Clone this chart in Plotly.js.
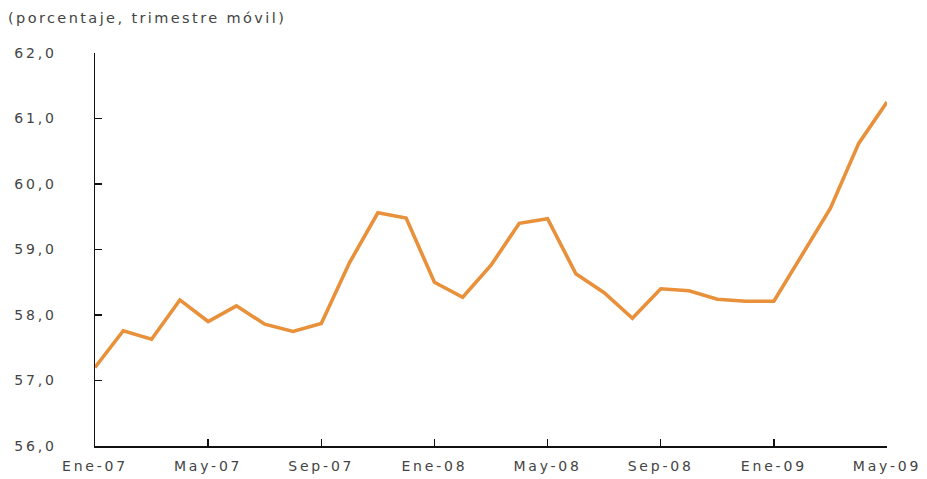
<!DOCTYPE html>
<html>
<head>
<meta charset="utf-8">
<script src="https://cdn.plot.ly/plotly-3.0.1.min.js"></script>
<style>
  html, body { margin: 0; padding: 0; background: #fff; }
  #chart { width: 927px; height: 479px; }
  /* wide, airy lettering for the axis labels and the unit note */
  #chart .xtick text, #chart .ytick text { letter-spacing: 2.8px; }
  #chart .gtitle { letter-spacing: 2.4px; }
</style>
</head>
<body>
<div id="chart"></div>
<script>
// Monthly series, Jan-2007 to May-2009 (rolling quarter, percent)
const months = [
  "Ene-07","Feb-07","Mar-07","Abr-07","May-07","Jun-07","Jul-07","Ago-07","Sep-07","Oct-07","Nov-07","Dic-07",
  "Ene-08","Feb-08","Mar-08","Abr-08","May-08","Jun-08","Jul-08","Ago-08","Sep-08","Oct-08","Nov-08","Dic-08",
  "Ene-09","Feb-09","Mar-09","Abr-09","May-09"
];
const rate = [
  57.20, 57.76, 57.63, 58.23, 57.90, 58.14, 57.86, 57.75, 57.87, 58.80, 59.56, 59.48,
  58.50, 58.27, 58.76, 59.40, 59.47, 58.63, 58.34, 57.95, 58.40, 58.37, 58.24, 58.21,
  58.21, 58.91, 59.63, 60.62, 61.25
];
const tickMonths = ["Ene-07","May-07","Sep-07","Ene-08","May-08","Sep-08","Ene-09","May-09"];
const yTicks = [56, 57, 58, 59, 60, 61, 62];

const xIndex = months.map((_, i) => i);
const tickIdx = tickMonths.map(m => months.indexOf(m));

const W = 927, H = 479;
const textColor = "#444444";
const font = { family: "'DejaVu Sans', sans-serif", size: 14, color: textColor };

const trace = {
  x: xIndex,
  y: rate,
  type: "scatter",
  mode: "lines",
  line: { color: "#E8903A", width: 3.6 },
  hoverinfo: "skip"
};

const layout = {
  width: W,
  height: H,
  margin: { l: 95, r: 40, t: 53, b: 33 },
  paper_bgcolor: "#fff",
  plot_bgcolor: "#fff",
  showlegend: false,
  font: font,
  separators: ",.",
  title: {
    text: "(porcentaje, trimestre móvil)",
    xref: "container", yref: "container",
    x: 8 / W, y: 1 - 18 / H,
    xanchor: "left", yanchor: "middle",
    font: { family: font.family, size: 14.5, color: textColor }
  },
  xaxis: {
    range: [0, months.length - 1],
    tickmode: "array",
    tickvals: tickIdx,
    ticktext: tickMonths,
    ticks: "inside",
    ticklen: 7,
    tickwidth: 1.3,
    tickcolor: "#111",
    showline: true,
    linecolor: "#111",
    linewidth: 1.5,
    showgrid: false,
    zeroline: false,
    ticklabelstandoff: 7,
    tickfont: font
  },
  yaxis: {
    range: [56, 62],
    tickmode: "array",
    tickvals: yTicks,
    tickformat: ".1f",
    ticks: "inside",
    ticklen: 7,
    tickwidth: 1.3,
    tickcolor: "#111",
    showline: true,
    linecolor: "#111",
    linewidth: 1.5,
    showgrid: false,
    zeroline: false,
    ticklabelstandoff: 34,
    tickfont: font
  }
};

Plotly.newPlot("chart", [trace], layout, { displayModeBar: false, staticPlot: true });
</script>
</body>
</html>
